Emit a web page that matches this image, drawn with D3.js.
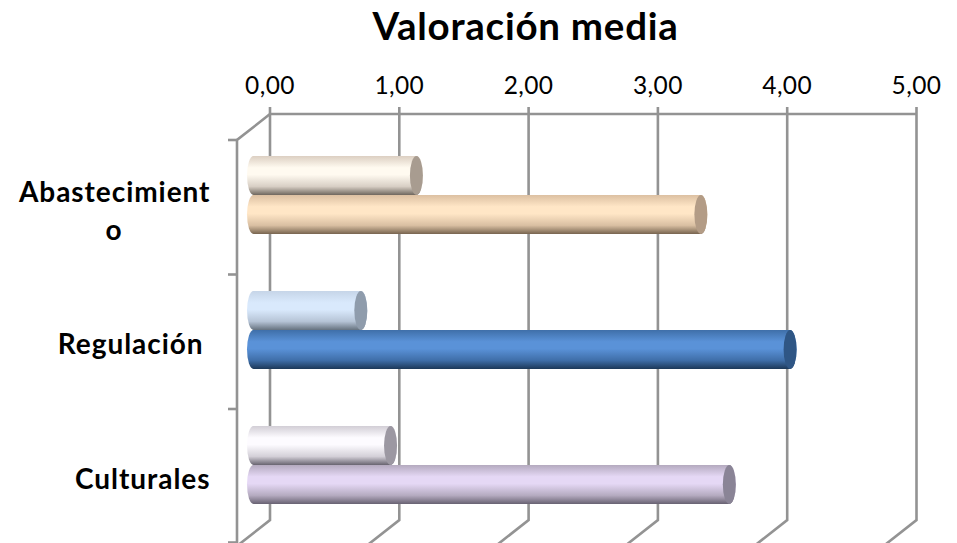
<!DOCTYPE html>
<html><head><meta charset="utf-8">
<style>html,body{margin:0;padding:0;background:#fff}svg{display:block}text{font-family:Lato,"Open Sans",sans-serif;fill:#000}</style>
<script src="https://cdn.jsdelivr.net/npm/d3@7/dist/d3.min.js"></script>
</head><body><svg id="c" width="957" height="543"></svg>
<script>
const categories = ["Abastecimiento", "Regulación", "Culturales"];
const tickValues = [0, 1, 2, 3, 4, 5];
const firstBarValues = [1.26, 0.83, 1.06];
const secondBarValues = [3.46, 4.15, 3.68];
const title = "Valoración media";

const firstPalette = [
  {top:"#dccfc2", mid:"#fffaf0", low:"#d8cfc5", bot:"#6f675e", cap:"#a89c90"},
  {top:"#c6d5e8", mid:"#d9e9fc", low:"#b6c4d6", bot:"#66727f", cap:"#8f9cac"},
  {top:"#d2ced6", mid:"#fdfbff", low:"#d4d0d8", bot:"#686470", cap:"#9c98a2"}];
const secondPalette = [
  {top:"#dcc0a2", mid:"#ffe6c6", low:"#d9bfa2", bot:"#77644f", cap:"#b39c86"},
  {top:"#3f6fa9", mid:"#5a92d8", low:"#3f6ea8", bot:"#1c3858", cap:"#2f5685"},
  {top:"#b4aabf", mid:"#e5d8f5", low:"#b5abc0", bot:"#686272", cap:"#8a8496"}];

const svg = d3.select("#c");
const GRID = "#939393";
const x = d3.scaleLinear().domain([0, 5]).range([270, 916.5]);
const barX = x.copy().range([253.5, 253.5 + 646.5]);
const y = d3.scaleBand().domain(categories).range([127.5, 532.5]);
const frontY = d3.scaleBand().domain(categories).range([140, 543.5]);
const backTop = 114, backBottom = 520, dx = -33, dy = 26;

const defs = svg.append("defs");
function grad(id, p) {
  const g = defs.append("linearGradient").attr("id", id).attr("x1", 0).attr("y1", 0).attr("x2", 0).attr("y2", 1);
  [[0, p.top], [0.3, p.mid], [0.48, p.mid], [0.78, p.low], [1, p.bot]].forEach(s =>
    g.append("stop").attr("offset", s[0]).attr("stop-color", s[1]));
}
firstPalette.forEach((p, i) => grad("a" + i, p));
secondPalette.forEach((p, i) => grad("b" + i, p));

// Title
svg.append("text").attr("x", 525.5).attr("y", 40).attr("text-anchor", "middle")
  .style("font-size", "38.5px").style("letter-spacing", "0.75px").style("font-weight", 700).text(title);

// Grid walls
const grid = svg.append("g").attr("fill", "none").attr("stroke", GRID).attr("stroke-width", 2.6);
tickValues.forEach(v => {
  grid.append("path").attr("d", `M${x(v)},${backTop - 7}V${backBottom}l${dx},${dy}`);
});
grid.append("path").attr("d", `M${x(0)},${backTop}H${x(5)}`);
grid.append("path").attr("d", `M${x(0)},${backTop}l${dx},${dy}V${backBottom + dy}`);
const frontTicks = categories.map(c => frontY(c)).concat([frontY.range()[1] - 1]);
frontTicks.forEach(t => grid.append("path").attr("d", `M${x(0) + dx - 9},${t}h9`));

// Value tick labels
svg.append("g").selectAll("text").data(tickValues).join("text")
  .attr("x", d => x(d)).attr("y", 94).attr("text-anchor", "middle")
  .style("font-size", "24.5px").style("letter-spacing", "0.4px")
  .text(d => d3.format(".2f")(d).replace(".", ","));

// Bars
const barH = 39, rx = 6.5;
function bars(values, offset, prefix, palette) {
  const g = svg.append("g");
  values.forEach((v, i) => {
    const c = y(categories[i]) + y.bandwidth() / 2 + offset;
    const x0 = barX(0), x1 = barX(v), t = c, b = c + barH;
    g.append("path")
      .attr("d", `M${x0},${t}L${x1},${t}A${rx},${barH / 2} 0 0 1 ${x1},${b}L${x0},${b}A${rx},${barH / 2} 0 0 1 ${x0},${t}Z`)
      .attr("fill", `url(#${prefix}${i})`);
    g.append("ellipse").attr("cx", x1).attr("cy", (t + b) / 2).attr("rx", rx).attr("ry", barH / 2)
      .attr("fill", palette[i].cap);
  });
}
bars(secondBarValues, 0, "b", secondPalette);
bars(firstBarValues, -barH, "a", firstPalette);

// Category labels
const label = (s, xp, yp, anchor) => svg.append("text").attr("x", xp).attr("y", yp)
  .attr("text-anchor", anchor).style("font-size", "28px").style("letter-spacing", "0.95px").style("font-weight", 700).text(s);
label(categories[0].slice(0, -1), 210.5, 202, "end");
label(categories[0].slice(-1), 114, 240, "middle");
label(categories[1], 203.5, 354, "end");
label(categories[2], 210.5, 489, "end");
</script></body></html>
